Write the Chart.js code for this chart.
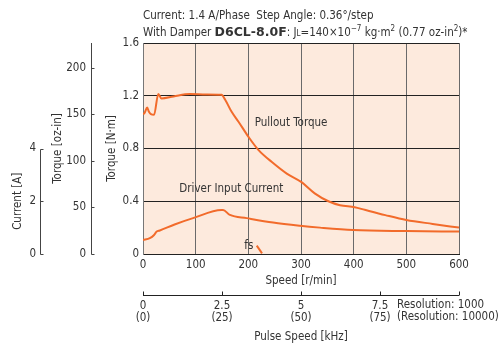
<!DOCTYPE html>
<html>
<head>
<meta charset="utf-8">
<script src="https://cdn.jsdelivr.net/npm/chart.js@4.4.1/dist/chart.umd.min.js"></script>
<style>
  html, body { margin: 0; padding: 0; background: #ffffff; }
  #wrap { width: 500px; height: 345px; position: relative; }
</style>
</head>
<body>
<div id="wrap"><canvas id="c" width="500" height="345"></canvas></div>
<script>
// ---- data ----
const speedTorque = [0, 3, 8, 11, 15, 21, 29, 35, 58, 89, 120, 149, 156, 168, 181, 200, 219, 247, 273, 301, 326, 352, 374, 402, 421, 460, 500, 550, 600];
const pulloutTorque = [1.06, 1.07, 1.11, 1.08, 1.06, 1.055, 1.213, 1.18, 1.195, 1.213, 1.21, 1.207, 1.17, 1.08, 1.005, 0.89, 0.79, 0.69, 0.61, 0.545, 0.46, 0.40, 0.37, 0.355, 0.335, 0.295, 0.258, 0.228, 0.20];
const speedCurrent = [0, 13, 21, 26, 32, 60, 95, 149, 152, 165, 197, 247, 298, 336, 399, 500, 600];
const inputCurrent = [0.53, 0.6, 0.72, 0.85, 0.89, 1.12, 1.36, 1.67, 1.67, 1.48, 1.36, 1.19, 1.07, 1.0, 0.91, 0.87, 0.85];
const fsSpeed = [216, 226];
const fsTorque = [0.063, 0.005];
const pulseTickLabels = { 0: ['0', '(0)'], 2.5: ['2.5', '(25)'], 5: ['5', '(50)'], 7.5: ['7.5', '(75)'], 10: ['', ''] };
const torqueTicks = [0, 0.4, 0.8, 1.2, 1.6];
const ozTicks = [0, 50, 100, 150, 200];
const currentTicks = [0, 2, 4];

const NM_TO_OZIN = 141.612;
const ORANGE = '#f26b2b';
const TXT = '#333333';
const FONT = "'DejaVu Sans Condensed', 'Liberation Sans Narrow', sans-serif";
const FS = 11.5;

Chart.defaults.font.family = FONT;
Chart.defaults.font.size = FS;
Chart.defaults.color = TXT;

const toXY = (xs, ys) => xs.map((x, i) => ({ x: x, y: ys[i] }));

const decor = {
  id: 'decor',
  beforeDraw(chart) {
    const { ctx, chartArea: a } = chart;
    ctx.save();
    ctx.fillStyle = '#fdeadd';
    ctx.fillRect(a.left, a.top, a.right - a.left, a.bottom - a.top);
    ctx.restore();
  },
  afterDraw(chart) {
    const { ctx, scales } = chart;
    const yCur = scales.yCur, yOz = scales.yOz, x = scales.x, x2 = scales.x2, y = scales.y;
    ctx.save();
    ctx.strokeStyle = '#444';
    ctx.lineWidth = 1;
    // current axis line + ticks
    const cx = Math.round(yCur.right) + 0.5;
    ctx.beginPath();
    ctx.moveTo(cx, Math.round(yCur.getPixelForValue(4)) + 0.5);
    ctx.lineTo(cx, Math.round(yCur.getPixelForValue(0)) + 0.5);
    currentTicks.forEach(v => {
      const py = Math.round(yCur.getPixelForValue(v)) + 0.5;
      ctx.moveTo(cx, py); ctx.lineTo(cx + 3, py);
    });
    ctx.stroke();
    // oz-in axis line + ticks
    const ox = Math.round(yOz.right) + 0.5;
    ctx.beginPath();
    ctx.moveTo(ox, yOz.top);
    ctx.lineTo(ox, Math.round(yOz.bottom) + 0.5);
    ozTicks.forEach(v => {
      const py = Math.round(yOz.getPixelForValue(v)) + 0.5;
      ctx.moveTo(ox, py); ctx.lineTo(ox + 3, py);
    });
    ctx.stroke();
    // pulse speed axis line + ticks
    const ly = Math.round(x2.top) + 5.5;
    ctx.strokeStyle = '#222';
    ctx.beginPath();
    ctx.moveTo(x2.left, ly);
    ctx.lineTo(x2.right, ly);
    Object.keys(pulseTickLabels).forEach(k => {
      const px = Math.round(x2.getPixelForValue(parseFloat(k))) + 0.5;
      ctx.moveTo(px, ly); ctx.lineTo(px, ly - 4);
    });
    ctx.stroke();

    ctx.fillStyle = TXT;
    const n = FS + 'px ' + FONT;
    // Current [A] title (centered on the short current axis)
    ctx.save();
    ctx.translate(18, yCur.getPixelForValue(2));
    ctx.rotate(-Math.PI / 2);
    ctx.font = n;
    ctx.textAlign = 'center';
    ctx.textBaseline = 'middle';
    ctx.fillText('Current [A]', 0, 0);
    ctx.restore();

    // resolution notes
    ctx.font = n;
    ctx.textAlign = 'left';
    ctx.textBaseline = 'middle';
    const rx = x2.getPixelForValue(7.5) + 17;
    ctx.fillText('Resolution: 1000', rx, x2.top + 15);
    ctx.fillText('(Resolution: 10000)', rx, x2.top + 27);

    // in-plot labels
    ctx.fillText('Pullout Torque', x.getPixelForValue(212), y.getPixelForValue(0.995));
    ctx.fillText('Driver Input Current', x.getPixelForValue(69), y.getPixelForValue(0.49));
    ctx.textAlign = 'center';
    ctx.fillText('fs', x.getPixelForValue(201), y.getPixelForValue(0.06));

    // header lines
    ctx.textAlign = 'left';
    ctx.textBaseline = 'alphabetic';
    const left = chart.chartArea.left;
    const runs = (px, py, parts) => {
      parts.forEach(p => {
        ctx.font = p.f;
        ctx.fillText(p.t, px, py + (p.dy || 0));
        px += ctx.measureText(p.t).width;
      });
    };
    const s = '8px ' + FONT;
    runs(left, 19, [{ t: 'Current: 1.4 A/Phase  Step Angle: 0.36°/step', f: n }]);
    runs(left, 36, [
      { t: 'With Damper ', f: n },
      { t: 'D6CL-8.0F', f: "bold 12.5px 'DejaVu Sans', sans-serif" },
      { t: ': J', f: n },
      { t: 'L', f: s },
      { t: '=140×10', f: n },
      { t: '−7', f: s, dy: -5 },
      { t: ' kg·m', f: n },
      { t: '2', f: s, dy: -5 },
      { t: ' (0.77 oz-in', f: n },
      { t: '2', f: s, dy: -5 },
      { t: ')*', f: n }
    ]);
    ctx.restore();
  }
};

new Chart(document.getElementById('c'), {
  type: 'line',
  data: {
    datasets: [
      { label: 'Pullout Torque', data: toXY(speedTorque, pulloutTorque), yAxisID: 'y', xAxisID: 'x',
        borderColor: ORANGE, borderWidth: 2, pointRadius: 0, cubicInterpolationMode: 'monotone', fill: false },
      { label: 'Driver Input Current', data: toXY(speedCurrent, inputCurrent), yAxisID: 'yCur', xAxisID: 'x',
        borderColor: ORANGE, borderWidth: 2, pointRadius: 0, cubicInterpolationMode: 'monotone', fill: false },
      { label: 'fs', data: toXY(fsSpeed, fsTorque), yAxisID: 'y', xAxisID: 'x',
        borderColor: ORANGE, borderWidth: 2, pointRadius: 0, fill: false }
    ]
  },
  options: {
    responsive: false,
    animation: false,
    devicePixelRatio: 1,
    layout: { padding: { top: 43, right: 41, left: 0, bottom: 0 } },
    plugins: { legend: { display: false }, tooltip: { enabled: false }, title: { display: false } },
    scales: {
      x: {
        type: 'linear', position: 'bottom', min: 0, max: 600, weight: 0,
        afterFit: s => { s.height = 36; },
        ticks: { stepSize: 100, padding: 4, autoSkip: false, maxRotation: 0, color: TXT },
        grid: { color: '#6a6a6a', lineWidth: 1, drawTicks: false },
        border: { display: true, color: '#222', width: 1 },
        title: { display: true, text: 'Speed [r/min]', color: TXT, padding: { top: 0, bottom: 2 } }
      },
      x2: {
        type: 'linear', position: 'bottom', min: 0, max: 10, weight: 1,
        afterFit: s => { s.height = 55; },
        afterBuildTicks: s => { s.ticks = Object.keys(pulseTickLabels).map(k => ({ value: parseFloat(k) })); },
        ticks: { autoSkip: false, maxRotation: 0, padding: 10, color: TXT,
                 font: { size: FS, lineHeight: 1.05 },
                 callback: v => pulseTickLabels[v] || '' },
        grid: { display: false, drawTicks: false },
        border: { display: false },
        title: { display: true, text: 'Pulse Speed [kHz]', color: TXT, padding: { top: 0, bottom: 1 } }
      },
      y: {
        type: 'linear', position: 'left', min: 0, max: 1.6, weight: 1,
        afterFit: s => { s.width = 52; },
        afterBuildTicks: s => { s.ticks = torqueTicks.map(v => ({ value: v })); },
        ticks: { padding: 4, color: TXT, callback: v => v === 0 ? '0' : v.toFixed(1) },
        grid: { color: '#222', lineWidth: 1, drawTicks: false },
        border: { display: true, color: '#777', width: 1 },
        title: { display: true, text: 'Torque [N·m]', color: TXT, padding: { top: 14, bottom: 0 } }
      },
      yOz: {
        type: 'linear', position: 'left', min: 0, max: 1.6 * NM_TO_OZIN, weight: 2,
        afterFit: s => { s.width = 51; },
        afterBuildTicks: s => { s.ticks = ozTicks.map(v => ({ value: v })); },
        ticks: { padding: 5, color: TXT },
        grid: { display: false, drawTicks: false },
        border: { display: false },
        title: { display: true, text: 'Torque [oz-in]', color: TXT, padding: { top: 11, bottom: 0 } }
      },
      yCur: {
        type: 'linear', position: 'left', min: 0, max: 8, weight: 3,
        afterFit: s => { s.width = 40; },
        afterBuildTicks: s => { s.ticks = currentTicks.map(v => ({ value: v })); },
        ticks: { padding: 4, color: TXT },
        grid: { display: false, drawTicks: false },
        border: { display: false },
        title: { display: false }
      }
    }
  },
  plugins: [decor]
});
</script>
</body>
</html>
